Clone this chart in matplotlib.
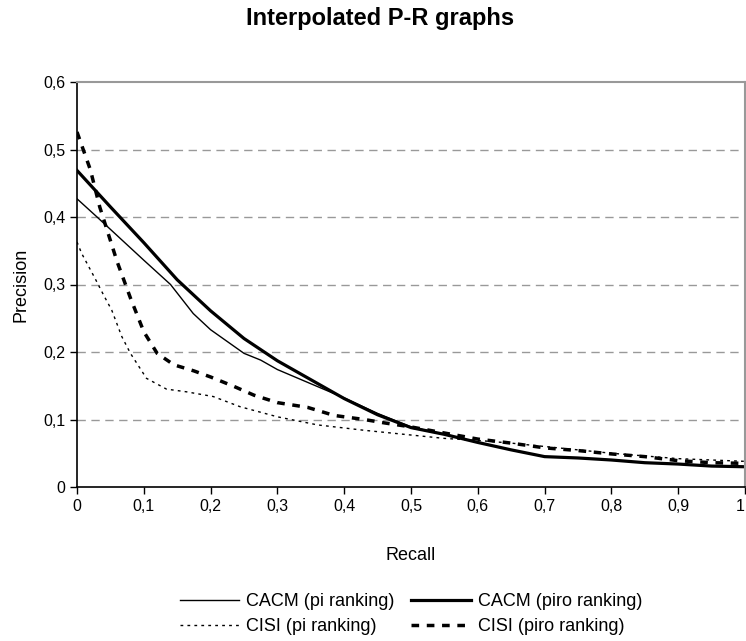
import numpy as np
import matplotlib
matplotlib.use('Agg')
import matplotlib.pyplot as plt
from matplotlib.ticker import FuncFormatter

plt.rcParams['font.family'] = ['Liberation Sans', 'DejaVu Sans']

#%% Data
cacm_pi_r = [0, 0.03, 0.1, 0.14, 0.174, 0.2, 0.25, 0.275, 0.3, 0.35, 0.4, 0.45,
             0.5, 0.55, 0.6, 0.65, 0.7, 0.75, 0.8, 0.85, 0.9, 0.95, 1.0]
cacm_pi_p = [0.427, 0.40, 0.336, 0.30, 0.257, 0.233, 0.198, 0.188, 0.174, 0.153, 0.132, 0.109,
             0.089, 0.078, 0.066, 0.055, 0.045, 0.043, 0.040, 0.036, 0.034, 0.031, 0.030]

cacm_piro_r = [0, 0.05, 0.1, 0.15, 0.2, 0.25, 0.3, 0.35, 0.4, 0.45, 0.5, 0.55,
               0.6, 0.65, 0.7, 0.75, 0.8, 0.85, 0.9, 0.95, 1.0]
cacm_piro_p = [0.469, 0.415, 0.362, 0.307, 0.261, 0.220, 0.187, 0.159, 0.131, 0.107, 0.088, 0.078,
               0.066, 0.055, 0.045, 0.043, 0.040, 0.036, 0.034, 0.031, 0.030]

cisi_pi_r = [0, 0.007, 0.027, 0.04, 0.052, 0.067, 0.08, 0.104, 0.134, 0.164, 0.204, 0.244,
             0.3, 0.36, 0.43, 0.5, 0.55, 0.6, 0.65, 0.7, 0.75, 0.8, 0.85, 0.9, 0.95, 1.0]
cisi_pi_p = [0.363, 0.346, 0.309, 0.284, 0.262, 0.223, 0.198, 0.161, 0.145, 0.141, 0.134, 0.119,
             0.104, 0.092, 0.084, 0.077, 0.072, 0.069, 0.065, 0.060, 0.055, 0.050, 0.046, 0.042, 0.040, 0.038]

cisi_piro_r = [0, 0.02, 0.034, 0.06, 0.08, 0.1, 0.12, 0.145, 0.175, 0.2, 0.235, 0.265, 0.3,
               0.345, 0.385, 0.43, 0.46, 0.5, 0.55, 0.6, 0.65, 0.7, 0.75, 0.8, 0.85, 0.9, 0.95, 1.0]
cisi_piro_p = [0.526, 0.47, 0.415, 0.334, 0.28, 0.23, 0.198, 0.181, 0.172, 0.163, 0.149, 0.136, 0.125,
               0.118, 0.106, 0.100, 0.095, 0.089, 0.080, 0.071, 0.065, 0.058, 0.054, 0.049, 0.045, 0.039, 0.036, 0.035]

labels = ['CACM (pi ranking)', 'CACM (piro ranking)', 'CISI (pi ranking)', 'CISI (piro ranking)']

#%% Plotting
fig = plt.figure(figsize=(7.46, 6.41), dpi=100)
ax = fig.add_axes([77/746, 1 - 487/641, (745 - 77)/746, (487 - 82)/641])

l1, = ax.plot(cacm_pi_r, cacm_pi_p, color='black', lw=1.0)
l2, = ax.plot(cacm_piro_r, cacm_piro_p, color='black', lw=2.3)
l3, = ax.plot(cisi_pi_r, cisi_pi_p, color='black', lw=1.0, linestyle=(0, (2, 3)))
l4, = ax.plot(cisi_piro_r, cisi_piro_p, color='black', lw=2.5, linestyle=(0, (2.2, 2.2)))

ax.set_xlim(0, 1)
ax.set_ylim(0, 0.6)
ax.set_xticks(np.arange(0, 1.01, 0.1))
ax.set_yticks(np.arange(0, 0.61, 0.1))
comma = FuncFormatter(lambda v, pos: ('%g' % round(v, 2)).replace('.', ','))
ax.xaxis.set_major_formatter(comma)
ax.yaxis.set_major_formatter(comma)
ax.tick_params(direction='out', length=5, width=1, labelsize=11.5, colors='black')
# last x label sits on the figure edge
ax.get_xticklabels()[-1].set_ha('right')

for y in [0.1, 0.2, 0.3, 0.4, 0.5]:
    ax.axhline(y, color='#999999', lw=1, linestyle=(0, (6, 4)), zorder=0)

ax.spines['top'].set_color('#999999')
ax.spines['right'].set_color('#999999')
ax.spines['top'].set_linewidth(1.5)
ax.spines['right'].set_linewidth(1.5)
ax.spines['left'].set_linewidth(1.2)
ax.spines['bottom'].set_linewidth(1.2)

ax.set_xlabel('Recall', fontsize=13, labelpad=24)
ax.set_ylabel('Precision', fontsize=13, labelpad=10)
fig.suptitle('Interpolated P-R graphs', fontsize=17, fontweight='bold', x=380/746, y=1 - 19/641,
             va='center')

fig.legend([l1, l3, l2, l4], [labels[0], labels[2], labels[1], labels[3]], loc='center',
           bbox_to_anchor=(411/746, 1 - 614/641), ncol=2, frameon=False, fontsize=13,
           handlelength=3.3, columnspacing=0.9, handletextpad=0.4, labelspacing=0.45)

fig.savefig('out.png', dpi=100)
